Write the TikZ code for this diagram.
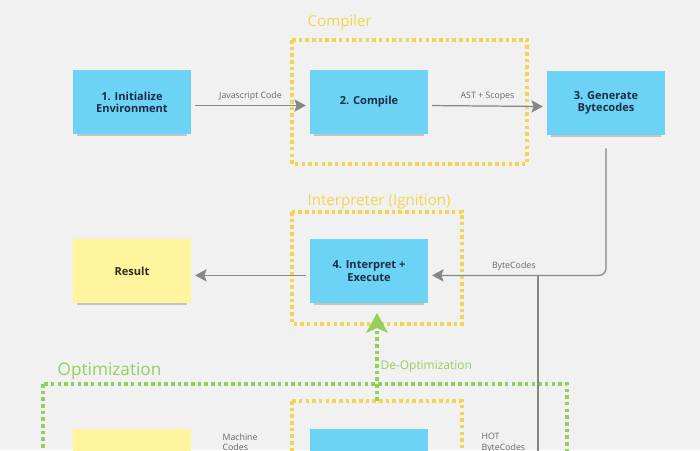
\documentclass[tikz,border=0pt]{standalone}
\usepackage{fontspec}
\setmainfont{Open Sans}
\usetikzlibrary{arrows.meta,positioning,calc,shadows}

\definecolor{bgcol}{HTML}{F1F1F1}
\definecolor{noteblue}{HTML}{6DD3F5}
\definecolor{noteyellow}{HTML}{FFF59D}
\definecolor{frameyellow}{HTML}{F2D54E}
\definecolor{framegreen}{HTML}{94CF5C}
\definecolor{linegrey}{HTML}{878787}
\definecolor{labelgrey}{HTML}{666666}
\definecolor{inkblue}{HTML}{1B2C48}
\definecolor{inkbrown}{HTML}{2F2B1C}

\tikzset{
  note/.style={minimum width=2.36cm, minimum height=1.3cm, align=center,
    font=\fontsize{6.3}{7}\selectfont\bfseries,
    drop shadow={shadow xshift=0pt, shadow yshift=-2.5pt, shadow scale=0.93, opacity=0.4}},
  bluenote/.style={note, fill=noteblue, text=inkblue},
  yellownote/.style={note, fill=noteyellow, text=inkbrown},
  conn/.style={draw=linegrey, line width=0.7pt, -{Stealth[length=6.5pt,width=7pt,inset=1.2pt]}},
  edgelabel/.style={font=\fontsize{5}{6}\selectfont, text=labelgrey, inner sep=2.5pt},
  yframe/.style={draw=frameyellow, line width=2pt, dash pattern=on 2pt off 1.8pt},
  gframe/.style={draw=framegreen, line width=2pt, dash pattern=on 2pt off 1.8pt},
  framelabel/.style={font=\fontsize{8.6}{10}\selectfont, text=frameyellow, inner sep=0pt, anchor=west}
}

\begin{document}
\begin{tikzpicture}[x=0.02cm,y=-0.02cm,line width=0.7pt]
\fill[bgcol] (0,0) rectangle (700,450);
\useasboundingbox (0,0) rectangle (700,450);
\clip (0,0) rectangle (700,450);

%frames
\coordinate (CompA) at (292,40);
\coordinate (CompB) at (527,164);
\coordinate (IntA) at (292,212);
\coordinate (IntB) at (462,324);
\coordinate (OptA) at (43,384);
\coordinate (OptB) at (567,540);
\coordinate (TurA) at (292,401);
\coordinate (TurB) at (462,540);
\draw[yframe] (CompA) rectangle (CompB);
\draw[yframe] (IntA) rectangle (IntB);
\draw[gframe] (OptA) rectangle (OptB);
\draw[yframe] (TurA) rectangle (TurB);

\node[framelabel] (complbl) at (307,23) {Compiler};
\node[framelabel] (intlbl) at (307,202) {Interpreter (Ignition)};
\node[framelabel, text=framegreen, font=\fontsize{9.8}{11}\selectfont] (optlbl) at (57,371) {Optimization};

%notes
\node[bluenote] (init) at (132,102) {1. Initialize\\Environment};
\node[bluenote] (compile) at (369,102) {2. Compile};
\node[bluenote] (gen) at (606,103) {3. Generate\\Bytecodes};
\node[bluenote] (interp) at (369,271) {4. Interpret +\\Execute};
\node[yellownote] (result) at (132,271) {Result};
\node[yellownote] (mcode) at (132,461) {};
\node[bluenote] (turbo) at (369,461) {};

%connectors
\draw[conn, shorten <=2pt, shorten >=2pt] ([yshift=-2pt]init.east) -- node[edgelabel, above] {Javascript Code} ([yshift=-2pt]compile.west);
\draw[conn, shorten <=2pt, shorten >=2pt] ([yshift=-2pt]compile.east) -- node[edgelabel, above] {AST + Scopes} ([yshift=-2pt]gen.west);
\draw[conn, rounded corners=4pt, shorten <=7pt, shorten >=2pt] (gen.south) |- node[edgelabel, above, pos=0.76] {ByteCodes} ([yshift=-2.5pt]interp.east);
\draw[conn, shorten <=2pt, shorten >=2pt] ([yshift=-2.5pt]interp.west) -- ([yshift=-2.5pt]result.east);

%hot path
\coordinate (hot) at (538,276);
\draw[conn] (hot) |- ([yshift=-2pt]turbo.east);
\node[edgelabel, anchor=north west, align=left, inner sep=0pt] (hotlbl) at (481,433) {HOT\\ByteCodes};
\draw[conn] ([yshift=-2pt]turbo.west) -- ([yshift=-2pt]mcode.east);
\node[edgelabel, anchor=north west, align=left, inner sep=0pt] (mclbl) at (222,433) {Machine\\Codes};

%de-optimization
\coordinate (deopt) at (377,401);
\draw[framegreen, line width=2pt, dash pattern=on 2pt off 1.8pt] (deopt) -- (377,328);
\fill[framegreen] (377,313) -- (366,333) -- (377,328) -- (388,333) -- cycle;
\node[anchor=west, text=framegreen, font=\fontsize{6.8}{8}\selectfont, inner sep=0pt] (deoptlbl) at (380,367) {De-Optimization};
\end{tikzpicture}
\end{document}
